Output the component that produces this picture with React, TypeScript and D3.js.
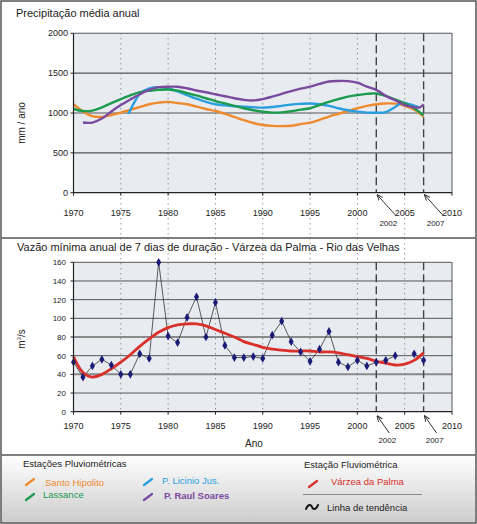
import React from "react";
import * as d3 from "d3";

const W = 477;
const H = 524;

// Top chart: annual precipitation (mm/ano) per station, [year, value]
const santoHipolito: [number, number][] = [
  [1970, 1110], [1971, 1020], [1972, 960], [1973, 950], [1974, 975], [1975, 1005], [1976, 1040],
  [1977, 1075], [1978, 1110], [1979, 1130], [1980, 1140], [1981, 1125], [1982, 1110], [1983, 1080],
  [1984, 1050], [1985, 1025], [1986, 990], [1987, 950], [1988, 910], [1989, 875], [1990, 850],
  [1991, 838], [1992, 835], [1993, 840], [1994, 860], [1995, 880], [1996, 915], [1997, 955],
  [1998, 990], [1999, 1025], [2000, 1060], [2001, 1090], [2002, 1110], [2003, 1120], [2004, 1118],
  [2005, 1090], [2006, 1040], [2007, 955],
];
const lassance: [number, number][] = [
  [1970, 1050], [1971, 1025], [1972, 1030], [1973, 1070], [1974, 1125], [1975, 1175], [1976, 1220],
  [1977, 1262], [1978, 1280], [1979, 1290], [1980, 1295], [1981, 1280], [1982, 1250], [1983, 1220],
  [1984, 1185], [1985, 1150], [1986, 1120], [1987, 1090], [1988, 1060], [1989, 1035], [1990, 1015],
  [1991, 1005], [1992, 1008], [1993, 1022], [1994, 1042], [1995, 1060], [1996, 1100], [1997, 1140],
  [1998, 1175], [1999, 1205], [2000, 1225], [2001, 1240], [2002, 1245], [2003, 1215], [2004, 1170],
  [2005, 1120], [2006, 1060], [2007, 970],
];
const licinioJus: [number, number][] = [
  [1975.8, 990], [1976.5, 1150], [1977, 1240], [1978, 1310], [1979, 1325], [1980, 1310], [1981, 1270],
  [1982, 1225], [1983, 1180], [1984, 1140], [1985, 1110], [1986, 1095], [1987, 1085], [1988, 1080],
  [1989, 1072], [1990, 1067], [1991, 1075], [1992, 1090], [1993, 1105], [1994, 1115], [1995, 1120],
  [1996, 1110], [1997, 1090], [1998, 1060], [1999, 1035], [2000, 1017], [2001, 1005], [2002, 1003],
  [2003, 1010], [2004, 1075], [2004.7, 1130], [2005.5, 1110], [2006.5, 1070],
];
const raulSoares: [number, number][] = [
  [1971, 880], [1972, 880], [1973, 930], [1974, 1020], [1975, 1100], [1976, 1170], [1977, 1235],
  [1978, 1290], [1979, 1325], [1980, 1330], [1981, 1330], [1982, 1310], [1983, 1282], [1984, 1260],
  [1985, 1235], [1986, 1210], [1987, 1185], [1988, 1165], [1989, 1158], [1990, 1175], [1991, 1205],
  [1992, 1240], [1993, 1275], [1994, 1305], [1995, 1330], [1996, 1365], [1997, 1395], [1998, 1402],
  [1999, 1400], [2000, 1380], [2001, 1330], [2002, 1290], [2003, 1215], [2004, 1160], [2005, 1100],
  [2006, 1072], [2006.6, 1070], [2007, 1110],
];

// Bottom chart: 7-day minimum annual flow (m3/s), Várzea da Palma (null = missing)
const flowYears: number[] = [
  1970, 1971, 1972, 1973, 1974, 1975, 1976, 1977, 1978, 1979, 1980, 1981, 1982, 1983, 1984, 1985,
  1986, 1987, 1988, 1989, 1990, 1991, 1992, 1993, 1994, 1995, 1996, 1997, 1998, 1999, 2000, 2001,
  2002, 2003, 2004, 2005, 2006, 2007,
];
const flowValues: (number | null)[] = [
  53, 37, 49, 56, 50, 40, 40, 62, 57, 160, 81, 74, 101, 123, 80, 117,
  71, 58, 58, 59, 57, 82, 97, 75, 64, 54, 67, 86, 53, 48, 55, 49,
  53, 55, 60, null, 62, 55,
];
const trendValues: number[] = [
  59, 42, 37, 40, 46, 53, 61, 70, 78, 85, 90, 93, 94, 94, 92, 88,
  84, 80, 75, 72, 69, 67, 66, 65, 65, 65, 64, 64, 63, 61, 59, 57,
  54, 52, 50, 51, 55, 63,
];

const xTicks = [1970, 1975, 1980, 1985, 1990, 1995, 2000, 2005, 2010];
const dottedYears = [1975, 1980, 1985, 1990, 1995, 2000, 2005];
const markYears = [2002, 2007];
const topYTicks = [0, 500, 1000, 1500, 2000];
const botYTicks = [0, 20, 40, 60, 80, 100, 120, 140, 160];

const C_ORANGE = "#ef8a2e";
const C_GREEN = "#1c9a4e";
const C_BLUE = "#2a9fe0";
const C_PURPLE = "#7a4a9e";
const C_RED = "#d9302b";
const FONT = "'Liberation Sans', Arial, Helvetica, sans-serif";

export default function App() {
  const x = d3.scaleLinear().domain([1970, 2010]).range([73.5, 452]);
  const yT = d3.scaleLinear().domain([0, 2000]).range([192.7, 33.3]);
  const yB = d3.scaleLinear().domain([0, 160]).range([411.7, 262.3]);

  const topLine = d3
    .line<[number, number]>()
    .x((d) => x(d[0]))
    .y((d) => yT(d[1]))
    .curve(d3.curveCatmullRom.alpha(0.5));

  const flowData = flowYears.map((yr, i) => ({ yr, v: flowValues[i] }));
  const flowLine = d3
    .line<{ yr: number; v: number | null }>()
    .defined((d) => d.v !== null)
    .x((d) => x(d.yr))
    .y((d) => yB(d.v as number));
  const trendLine = d3
    .line<number>()
    .x((_, i) => x(flowYears[i]))
    .y((d) => yB(d))
    .curve(d3.curveCatmullRom.alpha(0.5));

  const diamond = d3.symbol().type(d3.symbolDiamond).size(22)() as string;

  const series = [
    { data: santoHipolito, color: C_ORANGE },
    { data: licinioJus, color: C_BLUE },
    { data: lassance, color: C_GREEN },
    { data: raulSoares, color: C_PURPLE },
  ];

  const plotTop = { x0: x(1970), x1: x(2010), y0: yT(2000), y1: yT(0) };
  const plotBot = { x0: x(1970), x1: x(2010), y0: yB(160), y1: yB(0) };

  const slash = (cx: number, cy: number, color: string) => (
    <line x1={cx - 4} y1={cy + 3} x2={cx + 4} y2={cy - 3} stroke={color} strokeWidth={2.2} strokeLinecap="round" />
  );

  return (
    <svg
      width={W}
      height={H}
      style={{ position: "absolute", left: 0, top: 0, fontFamily: FONT }}
    >
      <defs>
        <marker id="arr" viewBox="0 0 10 10" refX="9" refY="5" markerWidth="6" markerHeight="6" orient="auto">
          <path d="M0,1 L10,5 L0,9" fill="none" stroke="#333" strokeWidth="1.6" />
        </marker>
        <linearGradient id="legGrad" x1="0" y1="0" x2="0" y2="1">
          <stop offset="0%" stopColor="#ffffff" />
          <stop offset="100%" stopColor="#cdcdcd" />
        </linearGradient>
      </defs>
      <rect x={0} y={0} width={W} height={H} fill="#ffffff" />
      {/* legend background */}
      <rect x={1.5} y={455} width={W - 3} height={H - 456.5} fill="url(#legGrad)" />

      {/* plot backgrounds */}
      <rect x={plotTop.x0} y={plotTop.y0} width={plotTop.x1 - plotTop.x0} height={plotTop.y1 - plotTop.y0} fill="#e8ecf1" />
      <rect x={plotBot.x0} y={plotBot.y0} width={plotBot.x1 - plotBot.x0} height={plotBot.y1 - plotBot.y0} fill="#e8ecf1" />

      {/* top grid */}
      {topYTicks.slice(1).map((t) => (
        <line key={"tg" + t} x1={plotTop.x0} x2={plotTop.x1} y1={yT(t)} y2={yT(t)} stroke="#555" strokeWidth={1.1} />
      ))}
      {/* bottom grid */}
      {botYTicks.slice(1).map((t) => (
        <line
          key={"bg" + t}
          x1={plotBot.x0}
          x2={plotBot.x1}
          y1={yB(t)}
          y2={yB(t)}
          stroke={t === 40 || t === 80 ? "#8a8a8a" : "#555"}
          strokeWidth={t === 40 || t === 80 ? 2 : 1}
        />
      ))}

      {/* dotted year lines */}
      {dottedYears.map((yr) => (
        <line key={"dl" + yr} x1={x(yr)} x2={x(yr)} y1={plotTop.y0} y2={plotBot.y1} stroke="#666" strokeWidth={1} strokeDasharray="1,4" />
      ))}

      {/* right borders */}
      <line x1={plotTop.x1} x2={plotTop.x1} y1={plotTop.y0} y2={plotTop.y1} stroke="#555" strokeWidth={1} />
      <line x1={plotBot.x1} x2={plotBot.x1} y1={plotBot.y0} y2={plotBot.y1} stroke="#555" strokeWidth={1} />

      {/* dashed markers */}
      {markYears.map((yr) => (
        <g key={"mk" + yr}>
          <line x1={x(yr)} x2={x(yr)} y1={plotTop.y0} y2={plotTop.y1} stroke="#444" strokeWidth={1.4} strokeDasharray="8,4" />
          <line x1={x(yr)} x2={x(yr)} y1={plotBot.y0} y2={plotBot.y1} stroke="#444" strokeWidth={1.4} strokeDasharray="8,4" />
        </g>
      ))}

      {/* top series */}
      {series.map((s, i) => (
        <path key={"s" + i} d={topLine(s.data) as string} fill="none" stroke={s.color} strokeWidth={2.4} strokeLinejoin="round" />
      ))}

      {/* top axes */}
      <line x1={plotTop.x0} x2={plotTop.x0} y1={plotTop.y0} y2={plotTop.y1} stroke="#222" strokeWidth={1.2} />
      <line x1={plotTop.x0} x2={plotTop.x1} y1={plotTop.y1} y2={plotTop.y1} stroke="#222" strokeWidth={1.2} />
      {topYTicks.map((t) => (
        <g key={"ty" + t}>
          <line x1={plotTop.x0 - 3} x2={plotTop.x0} y1={yT(t)} y2={yT(t)} stroke="#222" />
          <text x={68} y={yT(t) + 3} fontSize={9} textAnchor="end" fill="#222">{t}</text>
        </g>
      ))}
      {xTicks.map((t) => (
        <g key={"tx" + t}>
          <line x1={x(t)} x2={x(t)} y1={plotTop.y1} y2={plotTop.y1 + 3} stroke="#222" />
          <text x={x(t)} y={216} fontSize={9} textAnchor="middle" fill="#222">{t}</text>
        </g>
      ))}
      <text transform={`translate(25,${(plotTop.y0 + plotTop.y1) / 2 + 10}) rotate(-90)`} fontSize={10} textAnchor="middle" fill="#222">mm / ano</text>

      {/* top arrows + labels */}
      {markYears.map((yr) => (
        <g key={"ta" + yr}>
          <line x1={x(yr) + 20} y1={216} x2={x(yr) + 1} y2={195} stroke="#333" strokeWidth={1} markerEnd="url(#arr)" />
          <text x={x(yr) + 12} y={226} fontSize={8} textAnchor="middle" fill="#222">{yr}</text>
        </g>
      ))}

      {/* bottom series */}
      <path d={flowLine(flowData) as string} fill="none" stroke="#333" strokeWidth={0.8} />
      <path d={trendLine(trendValues) as string} fill="none" stroke={C_RED} strokeWidth={2.8} strokeLinejoin="round" />
      {flowData
        .filter((d) => d.v !== null)
        .map((d) => (
          <path key={"pt" + d.yr} d={diamond} transform={`translate(${x(d.yr)},${yB(d.v as number)})`} fill="#1b1b78" />
        ))}

      {/* bottom axes */}
      <line x1={plotBot.x0} x2={plotBot.x0} y1={plotBot.y0} y2={plotBot.y1} stroke="#222" strokeWidth={1.2} />
      <line x1={plotBot.x0} x2={plotBot.x1} y1={plotBot.y1} y2={plotBot.y1} stroke="#222" strokeWidth={1.2} />
      {botYTicks.map((t) => (
        <g key={"by" + t}>
          <line x1={plotBot.x0 - 3} x2={plotBot.x0} y1={yB(t)} y2={yB(t)} stroke="#222" />
          <text x={66} y={yB(t) + 3} fontSize={8} textAnchor="end" fill="#222">{t}</text>
        </g>
      ))}
      {xTicks.map((t) => (
        <g key={"bx" + t}>
          <line x1={x(t)} x2={x(t)} y1={plotBot.y1} y2={plotBot.y1 + 3} stroke="#222" />
          <text x={x(t)} y={429} fontSize={9} textAnchor="middle" fill="#222">{t}</text>
        </g>
      ))}
      <text transform={`translate(25,${(plotBot.y0 + plotBot.y1) / 2 + 2}) rotate(-90)`} fontSize={10} textAnchor="middle" fill="#222">
        m<tspan fontSize={6} dy={-4}>3</tspan><tspan dy={4}>/s</tspan>
      </text>
      <text x={254} y={447} fontSize={10} textAnchor="middle" fill="#222">Ano</text>
      {markYears.map((yr) => (
        <g key={"ba" + yr}>
          <line x1={x(yr) + 13} y1={433} x2={x(yr) + 1} y2={416} stroke="#333" strokeWidth={1} markerEnd="url(#arr)" />
          <text x={x(yr) + 11} y={443} fontSize={8} textAnchor="middle" fill="#222">{yr}</text>
        </g>
      ))}

      {/* titles */}
      <text x={16} y={17} fontSize={11} fill="#222">Precipitação média anual</text>
      <text x={17} y={251} fontSize={11} fill="#222">Vazão mínima anual de 7 dias de duração - Várzea da Palma - Rio das Velhas</text>

      {/* legend */}
      <text x={23} y={467} fontSize={9.5} fill="#222">Estações Pluviométricas</text>
      {slash(30, 482, C_ORANGE)}
      <text x={45} y={486} fontSize={9.5} fill={C_ORANGE}>Santo Hipolito</text>
      {slash(30, 497, C_GREEN)}
      <text x={43} y={498} fontSize={9.5} fill={C_GREEN}>Lassance</text>
      {slash(148, 482, C_BLUE)}
      <text x={162} y={484} fontSize={9.5} fill={C_BLUE}>P. Licinio Jus.</text>
      {slash(148, 497, C_PURPLE)}
      <text x={164} y={499} fontSize={9.5} fontWeight="bold" fill={C_PURPLE}>P. Raul Soares</text>

      <text x={304} y={468} fontSize={9.5} fill="#222">Estação Fluviométrica</text>
      {slash(313, 484, C_RED)}
      <text x={331} y={485} fontSize={9.5} fill={C_RED}>Várzea da Palma</text>
      <line x1={303} x2={422} y1={494.5} y2={494.5} stroke="#888" strokeWidth={1.2} />
      <path d="M306,509 C308,504 311,504 312,507 C313,510 316,510 318,505" fill="none" stroke="#111" strokeWidth={2} strokeLinecap="round" />
      <text x={327} y={511} fontSize={9.5} fill="#222">Linha de tendência</text>

      {/* panel borders */}
      <line x1={1.5} x2={W - 1.5} y1={238} y2={238} stroke="#555" strokeWidth={1.5} />
      <line x1={1.5} x2={W - 1.5} y1={455} y2={455} stroke="#555" strokeWidth={1.5} />
      <rect x={1} y={1} width={W - 2} height={H - 2} fill="none" stroke="#555" strokeWidth={1.5} />
    </svg>
  );
}
